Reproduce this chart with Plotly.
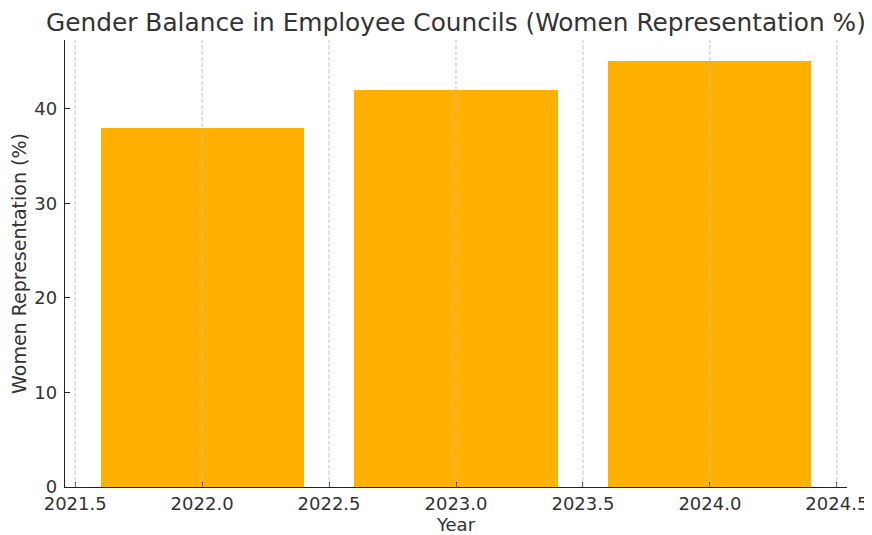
import plotly.graph_objects as go

years = [2022, 2023, 2024]
women_pct = [38, 42, 45]
x_ticks = [2021.5, 2022.0, 2022.5, 2023.0, 2023.5, 2024.0, 2024.5]
y_ticks = [0, 10, 20, 30, 40]

FONT = "DejaVu Sans"
TXT = "#333333"
AX = "#222222"

fig = go.Figure(go.Bar(x=years, y=women_pct, width=0.8,
                       marker=dict(color="#FFB000", line=dict(width=0))))

# vertical dashed grid drawn above the bars (as in the reference)
for xv in x_ticks:
    fig.add_shape(type="line", xref="x", yref="paper", x0=xv, x1=xv, y0=0, y1=1,
                  line=dict(color="rgba(190,190,190,0.75)", width=1.2, dash="4px,2px"),
                  layer="above")

fig.update_layout(
    width=864, height=527,
    margin=dict(l=57, r=25, t=32, b=48, autoexpand=False),
    paper_bgcolor="white", plot_bgcolor="white",
    font=dict(family=FONT, color=TXT, size=18),
    title=dict(text="Gender Balance in Employee Councils (Women Representation %)",
               x=0.5185, xanchor="center", xref="container",
               y=0.973, yanchor="middle", yref="container",
               font=dict(size=24.8, color=TXT, family=FONT)),
    showlegend=False,
    bargap=0,
)
fig.update_xaxes(
    range=[2021.46, 2024.54],
    tickvals=x_ticks, ticktext=[f"{v:.1f}" for v in x_ticks],
    showgrid=False,
    showline=True, linecolor=AX, linewidth=1.3,
    ticks="inside", ticklen=5, tickcolor=AX, tickwidth=1.2,
    tickfont=dict(size=18, color=TXT),
    title=dict(text="Year", font=dict(size=18, color=TXT)),
    zeroline=False, automargin=False,
)
fig.update_yaxes(
    range=[0, 47.25],
    tickvals=y_ticks,
    showgrid=False,
    showline=True, linecolor=AX, linewidth=1.3,
    ticks="inside", ticklen=5, tickcolor=AX, tickwidth=1.2,
    tickfont=dict(size=18, color=TXT),
    ticklabelstandoff=3,
    title=dict(text="Women Representation (%)", font=dict(size=19, color=TXT)),
    zeroline=False, automargin=False,
)

fig.write_html("out.html")
